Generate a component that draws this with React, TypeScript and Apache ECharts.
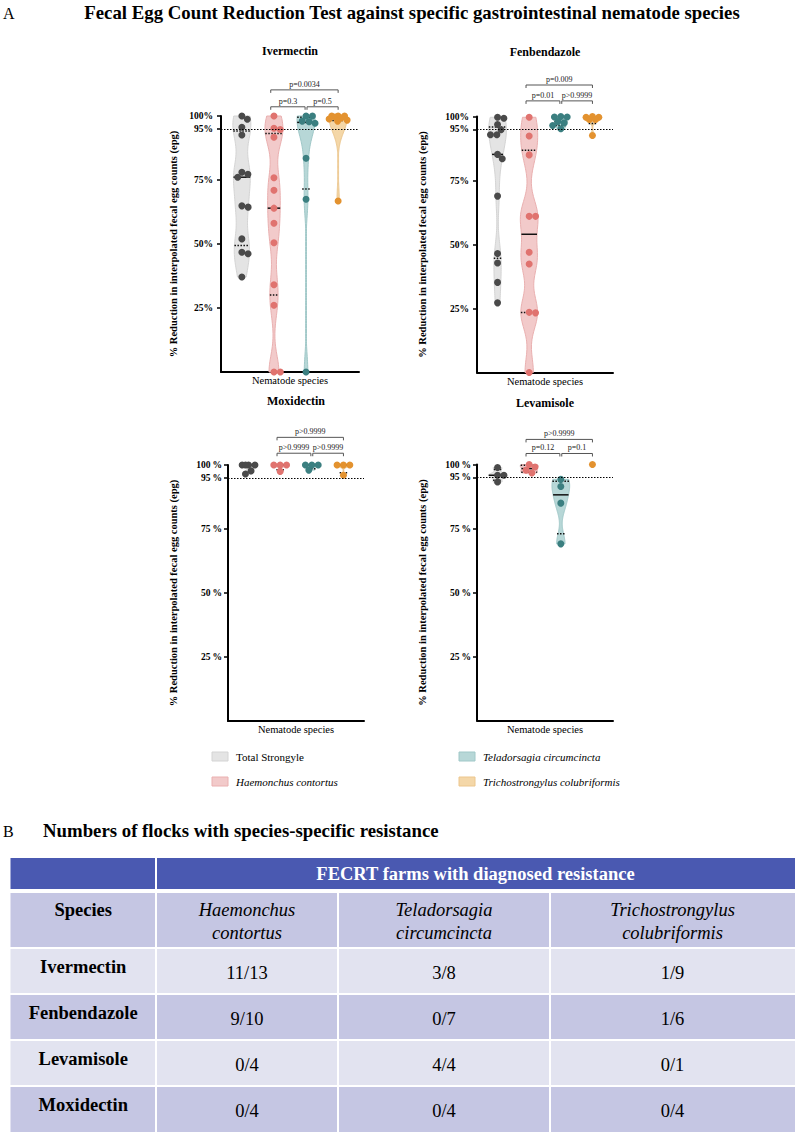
import React, { useEffect, useRef } from "react";
import * as echarts from "echarts";

const FONT = "'Liberation Serif', 'Times New Roman', Times, serif";

// ---------------- data ----------------
const speciesNames = ["Total Strongyle", "Haemonchus contortus", "Teladorsagia circumcincta", "Trichostrongylus colubriformis"];
const tickValues = [25, 50, 75, 95, 100];
const threshold = 95;

const ivermectinTotal = [100, 98.7, 95.6, 92.6, 78, 77.2, 76.1, 64.9, 64.4, 52, 46.8, 46.2, 37.1];
const ivermectinHaemonchus = [100, 95.2, 94.7, 91.7, 75.9, 71, 64, 58.1, 50.5, 34.1, 26.1, 0, 0];
const ivermectinTeladorsagia = [100, 100, 98, 97.8, 97.2, 83.5, 67.5, 0];
const ivermectinTricho = [100, 100, 100, 99.6, 99.2, 98.8, 98.4, 98, 66.8];

const fenbendazoleTotal = [99.7, 99.3, 96.9, 94.8, 92.9, 92.9, 85.2, 83.5, 68.9, 46.5, 42.8, 35.2, 27.2];
const fenbendazoleHaemonchus = [99.7, 92.4, 85, 61, 61, 47, 42.4, 23.5, 23.3, 0];
const fenbendazoleTeladorsagia = [100, 99.8, 99.8, 98, 97.5, 96.5, 95.2];
const fenbendazoleTricho = [100, 99.7, 99.7, 98.8, 98.8, 92.6];

const moxidectinTotal = [100, 100, 100, 100, 97.7, 96.5];
const moxidectinHaemonchus = [100, 100, 100, 97.5];
const moxidectinTeladorsagia = [100, 100, 100, 98];
const moxidectinTricho = [100, 100, 100, 96];

const levamisoleTotal = [98.8, 95.8, 95.8, 93.2];
const levamisoleHaemonchus = [100, 99, 97.8, 96.7];
const levamisoleTeladorsagia = [94.2, 91.4, 84.9, 69];
const levamisoleTricho = [100];

// p-values: [Haemonchus vs Trichostrongylus, Haemonchus vs Teladorsagia, Teladorsagia vs Trichostrongylus]
const pIvermectin = ["p=0.0034", "p=0.3", "p=0.5"];
const pFenbendazole = ["p=0.009", "p=0.01", "p>0.9999"];
const pMoxidectin = ["p>0.9999", "p>0.9999", "p>0.9999"];
const pLevamisole = ["p>0.9999", "p=0.12", "p=0.1"];

const panelTitles = ["Ivermectin", "Fenbendazole", "Moxidectin", "Levamisole"];
const panelData = [
  [ivermectinTotal, ivermectinHaemonchus, ivermectinTeladorsagia, ivermectinTricho],
  [fenbendazoleTotal, fenbendazoleHaemonchus, fenbendazoleTeladorsagia, fenbendazoleTricho],
  [moxidectinTotal, moxidectinHaemonchus, moxidectinTeladorsagia, moxidectinTricho],
  [levamisoleTotal, levamisoleHaemonchus, levamisoleTeladorsagia, levamisoleTricho],
];
const panelP = [pIvermectin, pFenbendazole, pMoxidectin, pLevamisole];

// table
const tableHeader = "FECRT farms with diagnosed resistance";
const tableSpeciesHeader = ["Haemonchus\ncontortus", "Teladorsagia\ncircumcincta", "Trichostrongylus\ncolubriformis"];
const tableDrugs = ["Ivermectin", "Fenbendazole", "Levamisole", "Moxidectin"];
const tableHaemonchus = ["11/13", "9/10", "0/4", "0/4"];
const tableTeladorsagia = ["3/8", "0/7", "4/4", "0/4"];
const tableTricho = ["1/9", "1/6", "0/1", "0/4"];

// ---------------- styling / layout ----------------
const dotColors = ["#4a4a4a", "#e0736f", "#3b7f80", "#e3922f"];
const violinFills = ["#e4e4e4", "#f2caca", "#b7d7d7", "#f4d7a8"];
const violinStrokes = ["#d4d4d4", "#eab0b0", "#a0c8c8", "#ecc68d"];

const XMIN = 0.35;
const XMAX = 4.65;
const HALF = 0.28;

const layouts = [
  { left: 221, top: 116, width: 138, height: 256, titleY: 51, yTitleX: 173, bracketY: [110.2, 103.6], sep: "", labelMargin: 8 },
  { left: 477, top: 116.5, width: 136, height: 256, titleY: 52, yTitleX: 422, bracketY: [112.3, 106.1], sep: "", labelMargin: 8 },
  { left: 228, top: 465, width: 136, height: 256, titleY: 401, yTitleX: 173, bracketY: [110.8, 104.6], sep: "\u2009", labelMargin: 6 },
  { left: 477, top: 464.5, width: 136, height: 256, titleY: 402.5, yTitleX: 422, bracketY: [109.8, 104.3], sep: "\u2009", labelMargin: 6 },
];

// ---------------- helpers ----------------
function percentile(values: number[], p: number) {
  const s = values.slice().sort((a, b) => a - b);
  const n = s.length;
  const r = (n + 1) * p;
  if (r <= 1) return s[0];
  if (r >= n) return s[n - 1];
  const lo = Math.floor(r);
  return s[lo - 1] + (r - lo) * (s[lo] - s[lo - 1]);
}

function kde(values: number[]) {
  const lo = Math.min(...values);
  const hi = Math.max(...values);
  if (hi - lo < 1e-9) return null;
  const h = Math.max(0.6, Math.min(6.5, (hi - lo) / 6));
  const steps = 100;
  const pts: number[][] = [];
  for (let k = 0; k <= steps; k++) {
    const y = lo + ((hi - lo) * k) / steps;
    let d = 0;
    for (const v of values) {
      const z = (y - v) / h;
      d += Math.exp(-0.5 * z * z);
    }
    pts.push([y, d]);
  }
  const m = Math.max(...pts.map((p) => p[1]));
  return pts.map(([y, d]) => [y, Math.max(d / m, 0.05)]);
}

function widthAt(shape: number[][], y: number) {
  for (let i = 0; i < shape.length - 1; i++) {
    if (y >= shape[i][0] && y <= shape[i + 1][0]) {
      const t = (y - shape[i][0]) / (shape[i + 1][0] - shape[i][0] || 1);
      return shape[i][1] + t * (shape[i + 1][1] - shape[i][1]);
    }
  }
  return y <= shape[0][0] ? shape[0][1] : shape[shape.length - 1][1];
}

function swarm(values: number[], pxX: number, pxY: number, diam = 6.4, cap = 9) {
  const idx = values.map((_, i) => i).sort((a, b) => values[b] - values[a]);
  const placed: number[][] = [];
  const offs: number[] = new Array(values.length).fill(0);
  for (const i of idx) {
    const y = values[i] * pxY;
    const cands = [0];
    for (const [px, py] of placed) {
      const dy = Math.abs(py - y);
      if (dy < diam) {
        const dx = Math.sqrt(diam * diam - dy * dy);
        cands.push(px + dx, px - dx);
      }
    }
    cands.sort((a, b) => Math.abs(a) - Math.abs(b));
    const free = (c: number) => placed.every(([px, py]) => Math.hypot(px - c, py - y) >= diam - 1e-6);
    let chosen = cands.find((c) => Math.abs(c) <= cap && free(c));
    if (chosen === undefined) {
      let best = 0;
      let bestD = -1;
      for (let c = -cap; c <= cap + 1e-9; c += 0.5) {
        const d = Math.min(...placed.map(([px, py]) => Math.hypot(px - c, py - y)));
        if (d > bestD + 1e-6) {
          bestD = d;
          best = c;
        }
      }
      chosen = best;
    }
    placed.push([chosen, y]);
    offs[i] = chosen / pxX;
  }
  return offs;
}

function buildOption() {
  const grid: any[] = [];
  const xAxis: any[] = [];
  const yAxis: any[] = [];
  const series: any[] = [];
  const graphic: any[] = [];

  layouts.forEach((L, gi) => {
    grid.push({ left: L.left, top: L.top, width: L.width, height: L.height });
    xAxis.push({
      gridIndex: gi,
      type: "value",
      min: XMIN,
      max: XMAX,
      axisLine: { show: true, onZero: false, lineStyle: { color: "#000", width: 2 } },
      axisTick: { show: false },
      axisLabel: { show: false },
      splitLine: { show: false },
      name: "Nematode species",
      nameLocation: "middle",
      nameGap: 3,
      nameTextStyle: { fontFamily: FONT, fontSize: 10.5, color: "#000", verticalAlign: "top" },
    });
    yAxis.push({
      gridIndex: gi,
      type: "value",
      min: 0,
      max: 100,
      axisLine: { show: true, lineStyle: { color: "#000", width: 2 } },
      axisTick: { show: true, length: 4, customValues: tickValues, lineStyle: { color: "#000", width: 1.5 } },
      axisLabel: {
        customValues: tickValues,
        formatter: (v: number) => `${v}${L.sep}%`,
        fontFamily: FONT,
        fontWeight: "bold",
        fontSize: 9.5,
        color: "#000",
        margin: L.labelMargin,
      },
      splitLine: { show: false },
    });

    const pxX = L.width / (XMAX - XMIN);
    const pxY = L.height / 100;

    panelData[gi].forEach((values, si) => {
      const center = si + 1;
      const shape = kde(values);
      const med = percentile(values, 0.5);
      const q1 = percentile(values, 0.25);
      const q3 = percentile(values, 0.75);
      // violin
      series.push({
        type: "custom",
        xAxisIndex: gi,
        yAxisIndex: gi,
        z: 1,
        silent: true,
        clip: false,
        itemStyle: { color: violinFills[si] },
        data: [[center, med]],
        encode: { x: 0, y: 1 },
        renderItem: (_p: any, api: any) => {
          const children: any[] = [];
          if (shape) {
            const left = shape.map(([y, w]) => api.coord([center - w * HALF, y]));
            const right = shape
              .slice()
              .reverse()
              .map(([y, w]) => api.coord([center + w * HALF, y]));
            children.push({
              type: "polygon",
              shape: { points: left.concat(right) },
              style: { fill: violinFills[si], stroke: violinStrokes[si], lineWidth: 1 },
            });
            const lines: [number, boolean][] = [
              [q1, true],
              [q3, true],
              [med, false],
            ];
            for (const [yv, dotted] of lines) {
              const w = Math.max(widthAt(shape, yv) * HALF, 0.12);
              const a = api.coord([center - w, yv]);
              const b = api.coord([center + w, yv]);
              children.push({
                type: "line",
                shape: { x1: a[0], y1: a[1], x2: b[0], y2: b[1] },
                style: { stroke: "#111", lineWidth: 1.5, lineDash: dotted ? [1.5, 1.5] : null },
              });
            }
          }
          return { type: "group", children };
        },
      });
      // dots
      const offs = swarm(values, pxX, pxY);
      series.push({
        type: "scatter",
        xAxisIndex: gi,
        yAxisIndex: gi,
        z: 3,
        silent: true,
        symbol: "circle",
        symbolSize: 7,
        itemStyle: { color: dotColors[si], opacity: 1 },
        data: values.map((v, i) => [center + offs[i], v]),
        markLine:
          si === 0
            ? {
                silent: true,
                symbol: ["none", "none"],
                label: { show: false },
                lineStyle: { color: "#000", width: 1, type: [1.5, 1.5] },
                data: [{ yAxis: threshold }],
              }
            : undefined,
      });
    });

    // significance brackets
    const labels = panelP[gi];
    series.push({
      type: "custom",
      xAxisIndex: gi,
      yAxisIndex: gi,
      z: 2,
      silent: true,
      clip: false,
      itemStyle: { color: "#555" },
      data: [
        [1.9, 4.0, L.bracketY[0]],
        [1.9, 2.97, L.bracketY[1]],
        [3.03, 4.0, L.bracketY[1]],
      ],
      encode: { x: [0, 1], y: 2 },
      renderItem: (params: any, api: any) => {
        const a = api.coord([api.value(0), api.value(2)]);
        const b = api.coord([api.value(1), api.value(2)]);
        const t = 3;
        return {
          type: "group",
          children: [
            {
              type: "polyline",
              shape: { points: [[a[0], a[1] + t], [a[0], a[1]], [b[0], b[1]], [b[0], b[1] + t]] },
              style: { stroke: "#555", lineWidth: 1, fill: "none" },
            },
            {
              type: "text",
              x: (a[0] + b[0]) / 2,
              y: a[1] - 1.5,
              style: {
                text: labels[params.dataIndex],
                align: "center",
                verticalAlign: "bottom",
                fontSize: 8,
                fontFamily: FONT,
                fill: "#222",
              },
            },
          ],
        };
      },
    });

    // panel title & y-axis title
    graphic.push({
      type: "text",
      x: L.left + L.width / 2,
      y: L.titleY,
      style: { text: panelTitles[gi], align: "center", verticalAlign: "middle", fontFamily: FONT, fontWeight: "bold", fontSize: 12, fill: "#000" },
    });
    graphic.push({
      type: "text",
      x: L.yTitleX,
      y: L.top + L.height / 2,
      rotation: Math.PI / 2,
      style: {
        text: "% Reduction in interpolated fecal egg counts (epg)",
        align: "center",
        verticalAlign: "middle",
        fontFamily: FONT,
        fontWeight: "bold",
        fontSize: 10.5,
        fill: "#000",
      },
    });
  });

  // headings
  graphic.push({ type: "text", x: 3, y: 13, style: { text: "A", verticalAlign: "middle", fontFamily: FONT, fontSize: 16, fill: "#000" } });
  graphic.push({
    type: "text",
    x: 412,
    y: 12,
    style: {
      text: "Fecal Egg Count Reduction Test against specific gastrointestinal nematode species",
      align: "center",
      verticalAlign: "middle",
      fontFamily: FONT,
      fontWeight: "bold",
      fontSize: 18.8,
      fill: "#000",
    },
  });

  // legend
  const legendPos = [
    [212, 756.5],
    [212, 781.5],
    [459, 756.5],
    [459, 781.5],
  ];
  speciesNames.forEach((name, si) => {
    const [lx, ly] = legendPos[si];
    graphic.push({
      type: "rect",
      shape: { x: lx, y: ly - 4.5, width: 16, height: 9 },
      style: { fill: violinFills[si], stroke: violinStrokes[si], lineWidth: 1 },
    });
    graphic.push({
      type: "text",
      x: lx + 24,
      y: ly,
      style: {
        text: name,
        verticalAlign: "middle",
        fontFamily: FONT,
        fontStyle: si === 0 ? "normal" : "italic",
        fontSize: 11,
        fill: "#000",
      },
    });
  });

  // section B
  graphic.push({ type: "text", x: 3, y: 831, style: { text: "B", verticalAlign: "middle", fontFamily: FONT, fontSize: 16, fill: "#000" } });
  graphic.push({
    type: "text",
    x: 43,
    y: 830,
    style: {
      text: "Numbers of flocks with species-specific resistance",
      verticalAlign: "middle",
      fontFamily: FONT,
      fontWeight: "bold",
      fontSize: 18.8,
      fill: "#000",
    },
  });

  // table
  const colX = [10.5, 156, 338, 550, 795];
  const rowsY = [
    [858, 889],
    [893, 947],
    [949, 993],
    [995, 1039],
    [1041, 1085],
    [1087, 1132],
  ];
  const blue = "#4a59b1";
  const lav = "#c5c6e3";
  const light = "#e2e3f0";
  const cell = (x0: number, x1: number, y0: number, y1: number, fill: string) =>
    graphic.push({ type: "rect", shape: { x: x0, y: y0, width: x1 - x0, height: y1 - y0 }, style: { fill } });
  // header
  cell(colX[0], colX[1] - 1, rowsY[0][0], rowsY[0][1], blue);
  cell(colX[1] + 1, colX[4], rowsY[0][0], rowsY[0][1], blue);
  graphic.push({
    type: "text",
    x: (colX[1] + colX[4]) / 2,
    y: (rowsY[0][0] + rowsY[0][1]) / 2,
    style: { text: tableHeader, align: "center", verticalAlign: "middle", fontFamily: FONT, fontWeight: "bold", fontSize: 18.5, fill: "#fff" },
  });
  const rowFills = [lav, light, lav, light, lav];
  for (let r = 1; r < rowsY.length; r++) {
    for (let c = 0; c < 4; c++) {
      cell(c === 0 ? colX[0] : colX[c] + 1, c === 3 ? colX[4] : colX[c + 1] - 1, rowsY[r][0], rowsY[r][1], rowFills[r - 1]);
    }
  }
  const colCenter = (c: number) => (colX[c] + colX[c + 1]) / 2;
  graphic.push({
    type: "text",
    x: colCenter(0),
    y: 910,
    style: { text: "Species", align: "center", verticalAlign: "middle", fontFamily: FONT, fontWeight: "bold", fontSize: 18.5, fill: "#000" },
  });
  tableSpeciesHeader.forEach((t, i) => {
    graphic.push({
      type: "text",
      x: colCenter(i + 1),
      y: 921.5,
      style: { text: t, align: "center", verticalAlign: "middle", lineHeight: 22.7, fontFamily: FONT, fontStyle: "italic", fontSize: 18.5, fill: "#000" },
    });
  });
  tableDrugs.forEach((d, i) => {
    const [y0, y1] = rowsY[i + 2];
    const cy = (y0 + y1) / 2;
    graphic.push({
      type: "text",
      x: colCenter(0),
      y: cy - 4.5,
      style: { text: d, align: "center", verticalAlign: "middle", fontFamily: FONT, fontWeight: "bold", fontSize: 18.5, fill: "#000" },
    });
    [tableHaemonchus[i], tableTeladorsagia[i], tableTricho[i]].forEach((v, c) => {
      graphic.push({
        type: "text",
        x: colCenter(c + 1),
        y: cy + 1.5,
        style: { text: v, align: "center", verticalAlign: "middle", fontFamily: FONT, fontSize: 18.5, fill: "#000" },
      });
    });
  });

  return {
    animation: false,
    backgroundColor: "#fff",
    textStyle: { fontFamily: FONT },
    grid,
    xAxis,
    yAxis,
    series,
    graphic,
  };
}

export default function App() {
  const ref = useRef<HTMLDivElement>(null);
  useEffect(() => {
    document.body.style.margin = "0";
    if (!ref.current) return;
    const chart = echarts.init(ref.current, null, { renderer: "svg" });
    chart.setOption(buildOption() as any);
    return () => chart.dispose();
  }, []);
  return <div ref={ref} style={{ width: 795, height: 1132 }} />;
}
